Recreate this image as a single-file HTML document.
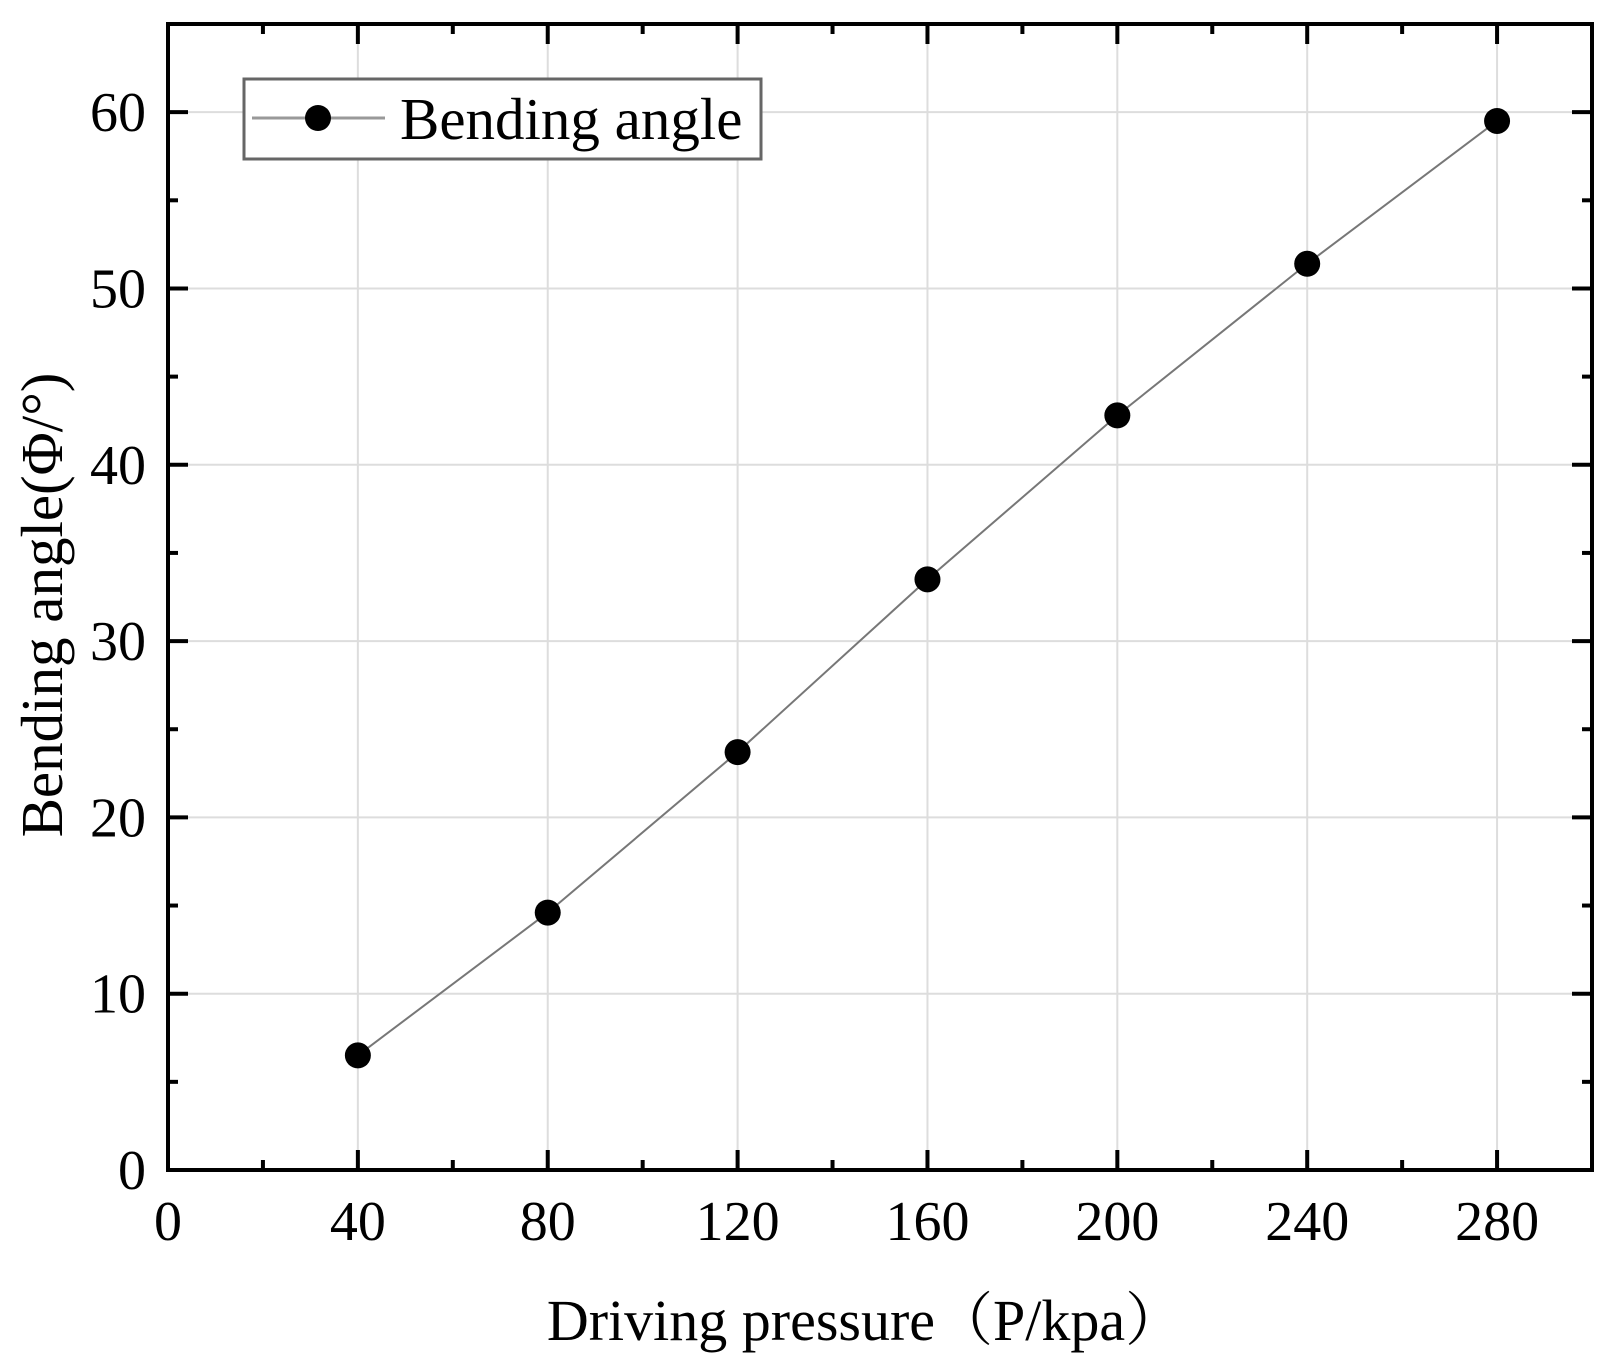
<!DOCTYPE html>
<html><head><meta charset="utf-8"><style>
html,body{margin:0;padding:0;background:#fff;}
svg{display:block;font-family:"Liberation Serif","Noto Serif CJK SC",serif;}
</style></head><body>
<svg id="chart" width="1614" height="1371" viewBox="0 0 1614 1371" xmlns="http://www.w3.org/2000/svg">
<g id="grid"></g>
<g id="ticks"></g>
<g id="series"></g>
<rect x="168" y="24" width="1424" height="1146" fill="none" stroke="#000" stroke-width="4"/>
<g>
<rect x="244" y="79" width="517" height="80" fill="#fff" stroke="#666" stroke-width="3"/>
<line x1="252" y1="118" x2="385" y2="118" stroke="#999" stroke-width="3"/>
<circle cx="318" cy="118" r="13" fill="#000"/>
<text x="400" y="139" font-size="59" fill="#000">Bending angle</text>
</g>
<text x="865" y="1340" font-size="58" text-anchor="middle">Driving pressure（P/kpa）</text>
<text transform="translate(62,605) rotate(-90)" font-size="59" text-anchor="middle">Bending angle(Φ/°)</text>
<g id="labels"></g>
</svg>
<script>
const categories=[40,80,120,160,200,240,280];
const values=[6.5,14.6,23.7,33.5,42.8,51.4,59.5];
const xTicks=[0,40,80,120,160,200,240,280];
const yTicks=[0,10,20,30,40,50,60];
const L=168,R=1592,T=24,B=1170,XMAX=300,YMAX=65;
const ns="http://www.w3.org/2000/svg";
function sx(v){return L+v/XMAX*(R-L);}
function sy(v){return B-v/YMAX*(B-T);}
function mk(tag,attrs,parent){const e=document.createElementNS(ns,tag);for(const k in attrs)e.setAttribute(k,attrs[k]);document.getElementById(parent).appendChild(e);return e;}
xTicks.forEach(v=>{
 if(v>0){const g=mk('line',{x1:sx(v),x2:sx(v),y1:T,y2:B,stroke:'#ddd','stroke-width':2},'grid');
 
 }
 const t=mk('text',{x:sx(v),y:1240,'font-size':56,'text-anchor':'middle'},'labels');t.textContent=v;
 
 
});
yTicks.forEach(v=>{
 if(v>0){const g=mk('line',{x1:L,x2:R,y1:sy(v),y2:sy(v),stroke:'#ddd','stroke-width':2},'grid');
 
 }
 const t=mk('text',{x:146,y:sy(v)+19,'font-size':56,'text-anchor':'end'},'labels');t.textContent=v;
 
 
});
for(let v=20;v<XMAX;v+=20){const len=(v%40===0)?20:10;
 [[B,B-len],[T,T+len]].forEach(p=>{const l=mk('line',{x1:sx(v),x2:sx(v),y1:p[0],y2:p[1],stroke:'#000','stroke-width':4},'ticks');
 
 });}
for(let v=5;v<YMAX;v+=5){const len=(v%10===0)?20:10;
 [[L,L+len],[R,R-len]].forEach(p=>{const l=mk('line',{x1:p[0],x2:p[1],y1:sy(v),y2:sy(v),stroke:'#000','stroke-width':4},'ticks');
 
 });}
const pl=mk('polyline',{points:categories.map((c,i)=>sx(c)+','+sy(values[i])).join(' '),fill:'none',stroke:'#777','stroke-width':2},'series');


categories.forEach((c,i)=>{const p=mk('circle',{cx:sx(c),cy:sy(values[i]),r:13,fill:'#000'},'series');
 
 });
</script>
</body></html>
